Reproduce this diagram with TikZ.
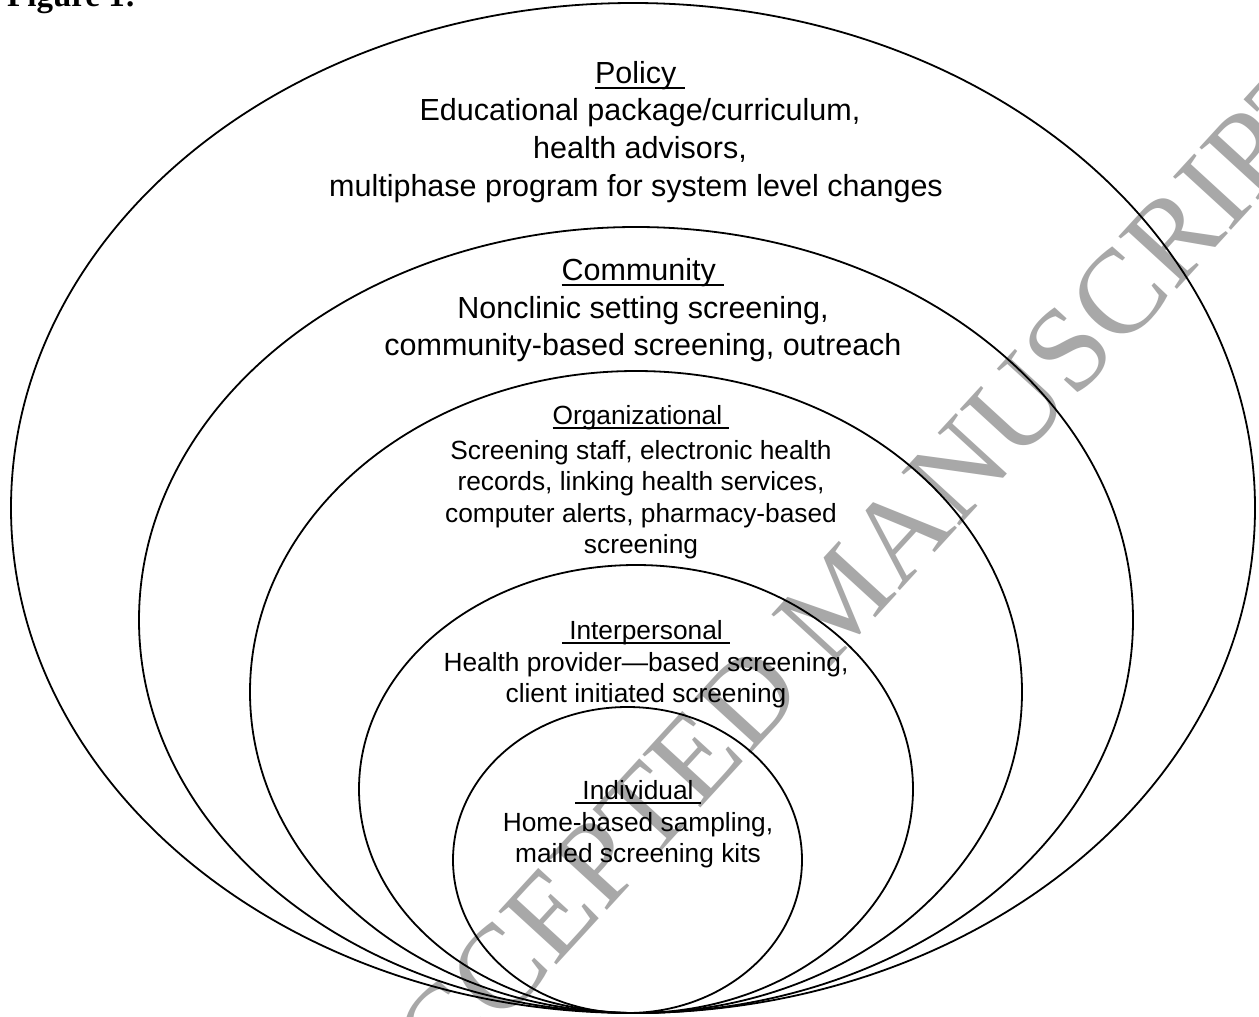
\documentclass[tikz,border=0pt]{standalone}
\usepackage{fontspec}
\setmainfont{Liberation Sans}
\newfontfamily\wmfont{Liberation Serif}
\definecolor{wmgray}{RGB}{168,168,168}
\newcommand\myul[1]{\setbox0\hbox{#1}\rlap{\rule[-0.19em]{\wd0}{0.07em}}\box0}
\begin{document}
\begin{tikzpicture}[x=1pt,y=-1pt,
  big/.style={font=\fontsize{30.5}{36}\selectfont, anchor=base, inner sep=0pt},
  small/.style={font=\fontsize{26.3}{32}\selectfont, anchor=base, inner sep=0pt},
  ring/.style={draw, line width=1.8pt}]
\fill[white] (0,0) rectangle (1259,1017);
\useasboundingbox (0,0) rectangle (1259,1017);
\clip (0,0) rectangle (1259,1017);
% watermark
\node[font=\wmfont\fontsize{120}{120}\selectfont, text=wmgray, rotate=47.5,
      anchor=base west, inner sep=0pt] (wm) at (388,1150) {ACCEPTED MANUSCRIPT};
% figure label (cut at top)
\node[font=\wmfont\bfseries\fontsize{33}{36}\selectfont, anchor=base west, inner sep=0pt] (fig) at (7,6) {Figure 1:};
% rings
\draw[ring] (633,508) ellipse [x radius=622pt, y radius=505pt];
\draw[ring] (636,620) ellipse [x radius=497pt, y radius=393pt];
\draw[ring] (636,692) ellipse [x radius=386pt, y radius=321pt];
\draw[ring] (636,789) ellipse [x radius=277pt, y radius=224pt];
\draw[ring] (627.5,860) ellipse [x radius=174.5pt, y radius=153pt];
% Policy
\node[big] (pol0) at (640,83) {\myul{Policy\ }};
\node[big] (pol1) at (640,120) {Educational package/curriculum,};
\node[big] (pol2) at (640,158) {health advisors,};
\node[big] (pol3) at (636,196) {multiphase program for system level changes};
% Community
\node[big] (com0) at (643,280) {\myul{Community\ }};
\node[big] (com1) at (643,318) {Nonclinic setting screening,};
\node[big] (com2) at (643,355) {community-based screening, outreach};
% Organizational
\node[small] (org0) at (641,424) {\myul{Organizational\ }};
\node[small] (org1) at (641,459) {Screening staff, electronic health};
\node[small] (org2) at (641,490) {records, linking health services,};
\node[small] (org3) at (641,522) {computer alerts, pharmacy-based};
\node[small] (org4) at (641,553) {screening};
% Interpersonal
\node[small] (int0) at (646,639) {\myul{\ Interpersonal\ }};
\node[small] (int1) at (646,671) {Health provider—based screening,};
\node[small] (int2) at (646,702) {client initiated screening};
% Individual
\node[small] (ind0) at (638,799) {\myul{\ Individual\ }};
\node[small] (ind1) at (638,831) {Home-based sampling,};
\node[small] (ind2) at (638,862) {mailed screening kits};
\end{tikzpicture}
\end{document}
